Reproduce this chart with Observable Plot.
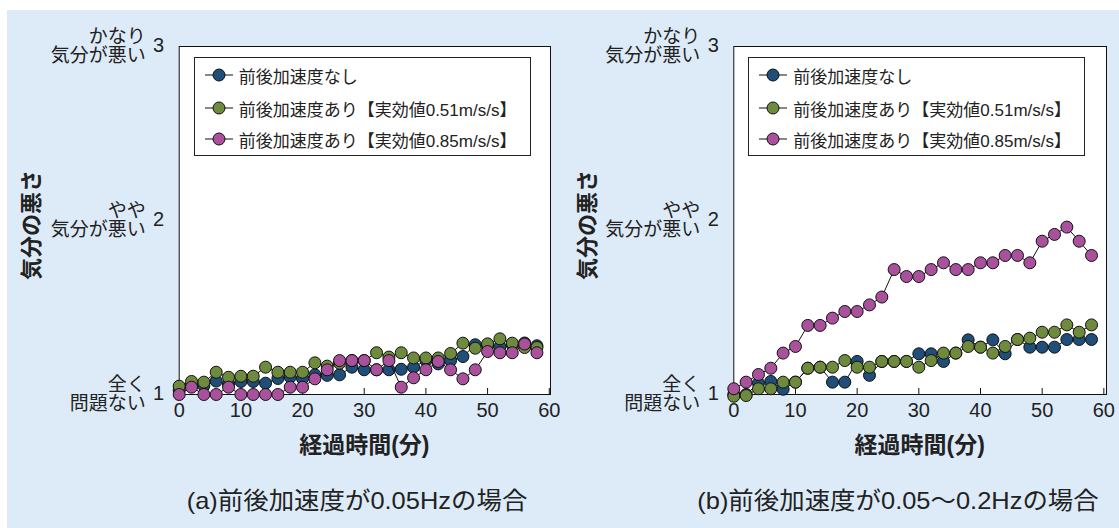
<!DOCTYPE html>
<html><head><meta charset="utf-8">
<script src="https://cdn.jsdelivr.net/npm/d3@7"></script>
<script src="https://cdn.jsdelivr.net/npm/@observablehq/plot@0.6"></script>
<style>
body{margin:0;background:#fff;font-family:"Liberation Sans","Noto Sans CJK JP",sans-serif;}
#wrap{position:relative;width:1119px;height:528px;overflow:hidden;background:#fff}
#bg{position:absolute;left:7px;top:10px;width:1112px;height:518px;background:#ddebf8}
.abs{position:absolute;white-space:nowrap;color:#222;line-height:1}
.legend{position:absolute;border:1px solid #222;background:#fff;box-sizing:border-box}
.row{position:absolute;left:10px;height:20px;display:flex;align-items:center;font-size:17px;color:#222;white-space:nowrap}
.row svg{margin-right:5px}
svg{overflow:visible}
</style></head><body><div id="wrap"><div id="bg"></div></div>
<script>
// ---- data ----
const minutes = [0,2,4,6,8,10,12,14,16,18,20,22,24,26,28,30,32,34,36,38,40,42,44,46,48,50,52,54,56,58];
const seriesNames = ["前後加速度なし","前後加速度あり【実効値0.51m/s/s】","前後加速度あり【実効値0.85m/s/s】"];
const seriesColors = ["#1f4e79","#6e8b3d","#a9519c"];
// panel (a) 0.05Hz
const aNone = [1.025,1.05,1.05,1.077,1.06,1.075,1.075,1.065,1.092,1.10,1.092,1.113,1.11,1.113,1.157,1.142,1.142,1.142,1.145,1.157,1.195,1.176,1.195,1.218,1.286,1.28,1.275,1.285,1.296,1.28];
const a051 = [1.048,1.075,1.071,1.128,1.099,1.105,1.105,1.157,1.128,1.128,1.128,1.182,1.163,1.18,1.195,1.195,1.24,1.215,1.24,1.21,1.21,1.21,1.236,1.295,1.266,1.291,1.32,1.295,1.27,1.27];
const a085 = [1.0,1.042,1.0,1.0,1.042,1.0,1.0,1.0,1.0,1.042,1.042,1.09,1.142,1.195,1.195,1.195,1.142,1.195,1.042,1.096,1.142,1.19,1.142,1.09,1.142,1.247,1.24,1.24,1.29,1.24];
// panel (b) 0.05-0.2Hz
const bNone = [1.0,1.0,1.065,1.075,1.03,1.071,1.151,1.157,1.071,1.071,1.19,1.11,1.19,1.19,1.19,1.234,1.234,1.19,1.238,1.314,1.272,1.314,1.234,1.316,1.272,1.272,1.272,1.316,1.316,1.316];
const b051 = [0.99,0.994,1.033,1.033,1.071,1.071,1.151,1.157,1.157,1.195,1.157,1.157,1.19,1.19,1.19,1.157,1.195,1.238,1.238,1.276,1.272,1.238,1.276,1.316,1.324,1.358,1.358,1.40,1.358,1.40];
const b085 = [1.033,1.071,1.115,1.151,1.238,1.276,1.397,1.397,1.439,1.477,1.477,1.515,1.56,1.718,1.678,1.678,1.718,1.757,1.718,1.718,1.757,1.757,1.799,1.799,1.757,1.881,1.92,1.962,1.881,1.799];
const xTicks = [0,10,20,30,40,50,60];
const yTicks = [1,2,3];
const yTickLabels = ["全く\n問題ない","やや\n気分が悪い","かなり\n気分が悪い"];
const yTitle = "気分の悪さ";
const xTitle = "経過時間(分)";
const captions = ["(a)前後加速度が0.05Hzの場合","(b)前後加速度が0.05〜0.2Hzの場合"];

const FONT = '"Liberation Sans","Noto Sans CJK JP",sans-serif';
const wrap = document.getElementById("wrap");
const H = 528, TOP = 46, BOTTOM = 394;

function panel(cfg) {
  const {seriesVals, left, width, marginLeft, marginRight, xmax, numPad} = cfg;
  const marks = [
    Plot.frame({fill: "white", stroke: "#111", strokeWidth: 1}),
    Plot.ruleX(xTicks, {x: d => d, insetTop: (BOTTOM - TOP) - 6, stroke: "#111", strokeWidth: 1}),
    Plot.axisX(xTicks, {tickSize: 0, tickPadding: 8, fontSize: 20, fill: "#222", label: null, tickFormat: d3.format("d")}),
    Plot.axisY(yTicks, {tickSize: 0, tickPadding: numPad, fontSize: 20, fill: "#222", label: null, dy: -1, tickFormat: d3.format("d")}),
    Plot.text(yTicks, {frameAnchor: "left", y: d => d, text: (d, i) => yTickLabels[i], dx: -33.5,
      textAnchor: "end", lineAnchor: "middle", lineHeight: 1.0, fontSize: 19, fill: "#222"})
  ];
  seriesVals.forEach((vals, si) => {
    const rows = minutes.map((t, i) => ({t, v: vals[i], s: seriesNames[si]}));
    marks.push(Plot.line(rows, {x: "t", y: "v", stroke: "#111", strokeWidth: 1}));
    marks.push(Plot.dot(rows, {x: "t", y: "v", r: 6, fill: seriesColors[si], stroke: "#111", strokeWidth: 1}));
  });
  const chart = Plot.plot({
    width, height: H, marginLeft, marginRight, marginTop: TOP, marginBottom: H - BOTTOM,
    style: {background: "transparent", fontFamily: FONT, overflow: "visible"},
    x: {domain: [0, xmax], axis: null},
    y: {domain: [1, 3], axis: null},
    marks
  });
  chart.style.position = "absolute";
  chart.style.left = left + "px";
  chart.style.top = "0px";
  wrap.appendChild(chart);

  const frameL = left + marginLeft, frameR = left + width - marginRight;
  // legend
  const lg = document.createElement("div");
  lg.className = "legend";
  lg.style.left = (frameL + 15) + "px"; lg.style.top = "57px";
  lg.style.width = "337px"; lg.style.height = "99px";
  const rowY = [17, 50, 81];
  seriesNames.forEach((name, i) => {
    const r = document.createElement("div");
    r.className = "row";
    r.style.top = (rowY[i] - 10) + "px";
    r.innerHTML = `<svg width="29" height="14"><line x1="0" y1="7" x2="28" y2="7" stroke="#111"/><circle cx="14" cy="7" r="6" fill="${seriesColors[i]}" stroke="#111"/></svg><span>${name}</span>`;
    lg.appendChild(r);
  });
  wrap.appendChild(lg);
  // y title
  const yt = document.createElement("div");
  yt.className = "abs";
  yt.textContent = yTitle;
  yt.style.cssText += `left:${cfg.yTitleX}px;top:225px;font-size:22px;font-weight:bold;transform:translate(-50%,-50%) rotate(-90deg);`;
  wrap.appendChild(yt);
  // x title
  const xt = document.createElement("div");
  xt.className = "abs";
  xt.textContent = xTitle;
  xt.style.cssText += `left:${(frameL + frameR) / 2}px;top:445px;font-size:23px;font-weight:bold;transform:translate(-50%,-50%);`;
  wrap.appendChild(xt);
  // caption
  const cp = document.createElement("div");
  cp.className = "abs";
  cp.textContent = cfg.caption;
  cp.style.cssText += `left:${cfg.captionX}px;top:501px;font-size:24px;transform:translate(-50%,-50%) scaleX(1.06);`;
  wrap.appendChild(cp);
}

panel({seriesVals: [aNone, a051, a085], left: 0, width: 560, marginLeft: 178.7, marginRight: 10,
  xmax: 60.2, numPad: 15, yTitleX: 32, caption: captions[0], captionX: 357});
panel({seriesVals: [bNone, b051, b085], left: 560, width: 559, marginLeft: 173.3, marginRight: 13,
  xmax: 60.43, numPad: 15, yTitleX: 588, caption: captions[1], captionX: 898});
</script></body></html>
